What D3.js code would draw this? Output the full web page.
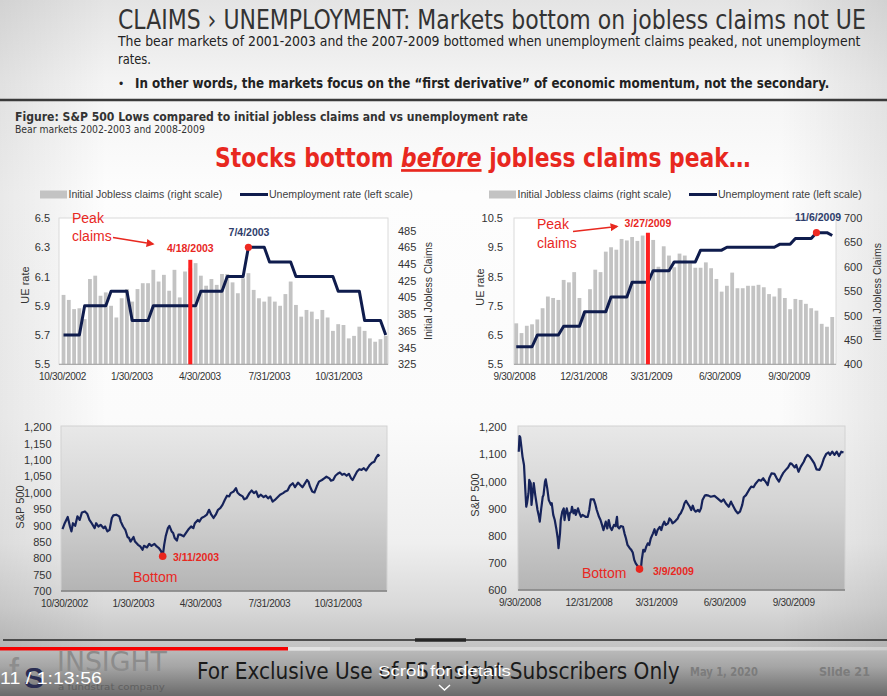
<!DOCTYPE html>
<html>
<head>
<meta charset="utf-8">
<script src="https://cdn.jsdelivr.net/npm/d3@7"></script>
<style>
html,body{margin:0;padding:0;background:#fff;overflow:hidden}
svg{display:block}
</style>
</head>
<body>
<svg id="chart" width="887" height="696"></svg>
<script>
// ================= DATA =================
// Weekly initial jobless claims (thousands), weeks ending Fridays
const claims1Start = "2002-11-01";
const claims1 = [408,402,391,392,379,427,431,407,411,395,
                 381,404,415,400,415,422,422,438,424,432,
                 413,438,405,436,440,446,431,419,427,420,
                 433,433,423,410,428,434,414,404,400,406,
                 400,395,409,424,396,382,390,388,379,390,
                 381,365,373,372,356,359,370,365,356,352,
                 355,359];
// Unemployment rate (%) on the same weekly dates
const ue1 = [5.7,5.7,5.7,5.7,5.9,5.9,5.9,5.9,5.9,6.0,
             6.0,6.0,6.0,5.8,5.8,5.8,5.8,5.9,5.9,5.9,
             5.9,5.9,5.9,5.9,5.9,5.9,6.0,6.0,6.0,6.0,
             6.0,6.1,6.1,6.1,6.1,6.3,6.3,6.3,6.3,6.2,
             6.2,6.2,6.2,6.2,6.1,6.1,6.1,6.1,6.1,6.1,
             6.1,6.1,6.0,6.0,6.0,6.0,6.0,5.8,5.8,5.8,
             5.8,5.7];
const claims2Start = "2008-10-03";
const claims2 = [484,464,479,482,492,515,539,536,532,573,
                 568,589,536,508,554,594,589,631,640,635,
                 657,654,661,653,664,666,655,600,642,623,
                 599,627,623,607,598,598,609,597,575,549,
                 561,588,556,556,561,561,563,558,544,539,
                 556,536,513,534,532,524,515,510,483,477,
                 497];
const ue2 = [6.1,6.1,6.1,6.1,6.5,6.5,6.5,6.5,6.5,6.8,
             6.8,6.8,6.8,7.3,7.3,7.3,7.3,7.3,7.8,7.8,
             7.8,7.8,8.3,8.3,8.3,8.3,8.7,8.7,8.7,8.7,
             9.0,9.0,9.0,9.0,9.0,9.4,9.4,9.4,9.4,9.4,
             9.5,9.5,9.5,9.5,9.5,9.5,9.5,9.5,9.5,9.5,
             9.6,9.6,9.6,9.8,9.8,9.8,9.8,10.0,10.0,10.0,
             9.9];

// S&P 500: day offset from start date, and level
const spx1Start = "2002-10-26";
const spx1Day = [2,5,9,12,14,16,19,22,25,28,32,35,38,41,45,47,50,53,57,59,
  62,65,68,70,74,78,80,83,86,89,91,93,97,99,103,106,109,111,115,118,
  121,125,128,131,134,136,138,140,143,145,148,150,152,155,157,160,164,167,170,174,
  177,179,183,185,188,192,195,198,201,204,207,210,213,216,219,222,225,227,231,234,
  236,239,243,245,248,252,255,258,261,264,267,271,274,277,280,283,286,290,293,297,
  300,303,306,310,313,317,320,323,325,329,331,333,336,339,342,345,349,352,355,359,
  361,364,367,370,373,376,379,382,385,388,390,393,396,399,402,405,408,411,413,416,
  419,421,424,426];
const spx1Val = [889,907,926,897,882,907,899,928,917,940,943,936,917,907,892,907,897,902,892,897,
  882,887,923,931,933,928,912,897,887,865,862,851,865,851,841,836,826,838,833,844,
  838,844,836,831,821,806,841,867,892,899,882,877,862,854,872,872,867,877,887,897,
  892,907,917,912,923,928,933,948,933,923,933,948,953,963,978,991,989,999,1004,1014,
  1001,994,989,980,983,999,1007,999,1004,987,994,987,991,983,989,973,978,987,994,999,
  1004,1007,1021,1029,1017,1031,1024,1017,1024,1039,1034,1019,1004,1001,1019,1034,1039,1044,1049,1044,
  1037,1039,1052,1058,1062,1055,1058,1052,1058,1044,1039,1052,1065,1072,1070,1075,1068,1078,1085,1092,
  1095,1105,1116,1112];
const spx2Start = "2008-09-29";
const spx2Day = [0,1,2,4,5,7,9,10,11,13,14,16,17,19,20,22,23,25,27,28,
  30,32,33,35,36,38,40,41,43,44,46,48,50,52,53,55,56,58,60,61,
  62,64,65,67,68,70,71,73,75,76,79,81,83,85,89,92,94,96,100,102,
  104,107,109,111,113,116,118,120,122,124,127,129,131,132,134,136,139,141,143,145,
  148,150,152,154,156,159,161,163,164,166,168,170,172,174,176,179,181,183,185,188,
  190,192,194,196,199,201,203,205,208,210,212,214,216,219,221,223,225,228,230,232,
  234,236,239,241,243,245,248,250,253,256,261,265,270,273,276,280,283,285,289,292,
  295,298,300,303,307,310,313,316,320,323,326,329,332,334,337,341,344,347,350,353,
  356,359,362,364,368,370,373,376,380,382,385,388,391,394,397,401,404,407,410,413,
  415,418,421,424,427,430,433];
const spx2Val = [1110,1168,1163,1116,1092,1061,957,907,920,957,1006,994,914,969,994,950,932,895,870,852,
  901,944,950,1000,1008,975,932,926,914,920,877,858,827,790,754,809,858,889,901,858,
  877,901,889,858,883,889,907,883,895,877,901,883,870,877,870,870,895,934,934,917,
  895,870,858,840,821,852,827,858,831,821,840,836,870,833,827,836,833,809,790,766,
  754,748,738,711,698,686,677,682,711,748,742,760,772,766,790,809,824,803,821,833,
  821,840,852,840,846,864,858,846,852,858,864,877,883,901,920,929,920,907,895,911,
  895,889,895,889,901,932,948,950,948,944,947,938,926,934,920,907,926,914,893,883,
  889,914,942,950,969,981,979,993,1006,1003,1012,1000,987,1012,1030,1028,1012,1000,1018,1033,
  1043,1052,1067,1065,1052,1061,1036,1055,1073,1086,1098,1092,1080,1067,1045,1043,1061,1086,1102,1107,
  1098,1110,1098,1110,1094,1110,1107];

// Axis tick labels
const xLabels1 = ["10/30/2002","1/30/2003","4/30/2003","7/31/2003","10/31/2003"];
const xLabels2 = ["9/30/2008","12/31/2008","3/31/2009","6/30/2009","9/30/2009"];
const ueTicks1 = [5.5,5.7,5.9,6.1,6.3,6.5];
const clTicks1 = [325,345,365,385,405,425,445,465,485];
const ueTicks2 = [5.5,6.5,7.5,8.5,9.5,10.5];
const clTicks2 = [400,450,500,550,600,650,700];
const spxTicks1 = [700,750,800,850,900,950,1000,1050,1100,1150,1200];
const spxTicks2 = [600,700,800,900,1000,1100,1200];

// Key dates
const peakClaims1 = "2003-04-18", uePeak1 = "2003-07-04", spxLow1 = "2003-03-11";
const peakClaims2 = "2009-03-27", uePeak2 = "2009-11-06", spxLow2 = "2009-03-09";

// ================= DRAWING =================
const SANS = "'Liberation Sans', Arial, Helvetica, sans-serif";
const NARROW = "'Liberation Sans Narrow','Arial Narrow','DejaVu Sans Condensed','Liberation Sans',Arial,sans-serif";
const RED = "#e8281f", NAVY = "#0f1c4d";
const parse = d3.timeParse("%Y-%m-%d");
const parseMDY = d3.timeParse("%m/%d/%Y");

const svg = d3.select("#chart");
const defs = svg.append("defs");
function grad(id, stops, vertical = true) {
  const lg = defs.append("linearGradient").attr("id", id)
    .attr("x1", 0).attr("y1", 0).attr("x2", vertical ? 0 : 1).attr("y2", vertical ? 1 : 0);
  stops.forEach(([o, c, op]) => lg.append("stop").attr("offset", o).attr("stop-color", c).attr("stop-opacity", op == null ? 1 : op));
}
grad("bg", [[0,"#e4e4e4"],[0.12,"#f4f4f4"],[0.28,"#fdfdfd"],[0.6,"#fbfbfb"],[0.78,"#efefef"],[0.87,"#d9d9d9"],[0.92,"#c6c6c6"],[1,"#b4b4b4"]]);
grad("vig", [[0,"#000",0.08],[0.12,"#000",0],[0.88,"#000",0],[1,"#000",0.08]], false);
grad("plotbg", [[0,"#e8e8e8"],[0.5,"#d3d3d3"],[1,"#b4b4b4"]]);
grad("foot", [[0,"#b9b9b9"],[0.35,"#a5a5a5"],[1,"#6a6a6a"]]);
defs.append("marker").attr("id", "arr").attr("viewBox", "0 0 10 10").attr("refX", 8).attr("refY", 5)
  .attr("markerWidth", 5).attr("markerHeight", 5).attr("orient", "auto")
  .append("path").attr("d", "M0,0L10,5L0,10z").attr("fill", RED);

svg.append("rect").attr("width", 887).attr("height", 696).attr("fill", "url(#bg)");
svg.append("rect").attr("width", 887).attr("height", 696).attr("fill", "url(#vig)");

// text helper; "w" fits the text to a target width by horizontal scaling
function T(x, y, s, o = {}) {
  const t = svg.append("text").text(s)
    .attr("font-family", o.ff || SANS).attr("font-size", o.fs || 12).attr("fill", o.fill || "#222");
  if (o.fw) t.attr("font-weight", o.fw);
  if (o.anchor) t.attr("text-anchor", o.anchor);
  if (o.build) o.build(t);
  if (o.rot) {
    t.attr("x", x).attr("y", y).attr("transform", `rotate(-90 ${x} ${y})`);
  } else if (o.w) {
    const nat = t.node().getComputedTextLength() || o.w;
    const sx = o.w / nat;
    t.attr("x", 0).attr("y", 0).attr("transform", `translate(${x},${y}) scale(${sx},1)`);
  } else {
    t.attr("x", x).attr("y", y);
  }
  return t;
}

// ---- header ----
T(118, 29, "CLAIMS \u203A UNEMPLOYMENT: Markets bottom on jobless claims not UE", {ff: NARROW, fs: 27, fill: "#333", w: 748});
T(118, 46, "The bear markets of 2001-2003 and the 2007-2009 bottomed when unemployment claims peaked, not unemployment", {ff: NARROW, fs: 14.5, fill: "#222", w: 743});
T(118, 64, "rates.", {ff: NARROW, fs: 14.5, fill: "#222", w: 33});
T(119, 88, "\u2022", {fs: 12, fill: "#222"});
T(135, 88, "In other words, the markets focus on the \u201Cfirst derivative\u201D of economic momentum, not the secondary.", {ff: NARROW, fs: 14.5, fw: "bold", fill: "#222", w: 695});
svg.append("line").attr("x1", 0).attr("x2", 887).attr("y1", 100).attr("y2", 100).attr("stroke", "#3a3a3a").attr("stroke-width", 2.5);
T(15, 121, "Figure: S&P 500 Lows compared to initial jobless claims and vs unemployment rate", {ff: NARROW, fs: 12.5, fw: "bold", fill: "#333", w: 513});
T(15, 133, "Bear markets 2002-2003 and 2008-2009", {ff: NARROW, fs: 10, fill: "#333", w: 190});
T(215, 167, "", {ff: NARROW, fs: 27, fw: "bold", fill: RED, w: 536, build: t => {
  t.append("tspan").text("Stocks bottom ");
  t.append("tspan").text("before").attr("font-style", "italic").attr("text-decoration", "underline").style("text-decoration", "underline");
  t.append("tspan").text(" jobless claims peak\u2026");
}});

// ---- top charts ----
function topChart(c) {
  const x = d3.scaleTime().domain([parse(c.xFrom), parse(c.xTo)]).range([c.x0, c.x1]);
  const yL = d3.scaleLinear().domain(c.ueDom).range([c.yB, c.yT]);
  const yR = d3.scaleLinear().domain(c.clDom).range([c.yB, c.yT]);
  const start = parse(c.start);
  const dates = c.claims.map((v, i) => d3.timeDay.offset(start, 7 * i));
  const g = svg.append("g");
  g.append("rect").attr("x", c.x0).attr("y", c.yT).attr("width", c.x1 - c.x0).attr("height", c.yB - c.yT)
    .attr("fill", "#fff").attr("stroke", "#dadada");
  const bw = 3.8;
  g.append("g").selectAll("rect").data(c.claims).join("rect")
    .attr("x", (d, i) => x(dates[i]) - bw / 2).attr("width", bw)
    .attr("y", d => yR(d)).attr("height", d => yR(c.clDom[0]) - yR(d)).attr("fill", "#c3c3c3");
  g.append("line").attr("x1", c.x0).attr("x2", c.x1).attr("y1", c.yB).attr("y2", c.yB).attr("stroke", "#a0a0a0");
  g.append("path").datum(c.ue)
    .attr("d", d3.line().x((d, i) => x(dates[i])).y(d => yL(d)))
    .attr("fill", "none").attr("stroke", NAVY).attr("stroke-width", 3).attr("stroke-linejoin", "round");
  const px = x(parse(c.peak));
  g.append("line").attr("x1", px).attr("x2", px).attr("y1", yR(c.peakTop)).attr("y2", c.yB)
    .attr("stroke", "#ff1f1f").attr("stroke-width", 4);
  const ui = dates.findIndex(d => +d === +parse(c.uePeak));
  g.append("circle").attr("cx", x(dates[ui])).attr("cy", yL(c.ue[ui])).attr("r", 3.6).attr("fill", "#ee2a22");
  // axes
  const aL = g.append("g").attr("transform", `translate(${c.x0},0)`)
    .call(d3.axisLeft(yL).tickValues(c.ueTicks).tickSize(0).tickPadding(c.padL).tickFormat(d3.format(".1f")));
  const aR = g.append("g").attr("transform", `translate(${c.x1},0)`)
    .call(d3.axisRight(yR).tickValues(c.clTicks).tickSize(0).tickPadding(c.padR));
  const aB = g.append("g").attr("transform", `translate(0,${c.yB})`)
    .call(d3.axisBottom(x).tickValues(c.xLabels.map(parseMDY)).tickSize(0).tickPadding(9).tickFormat((d, i) => c.xLabels[i]));
  [aL, aR].forEach(a => { a.attr("font-family", SANS).attr("font-size", 11); a.select(".domain").remove(); a.selectAll("text").attr("fill", "#333"); });
  aB.attr("font-family", SANS).attr("font-size", 10); aB.select(".domain").remove(); aB.selectAll("text").attr("fill", "#333").attr("letter-spacing", "-0.3");
  return {x, yL, yR, px};
}

const t1 = topChart({xFrom: "2002-10-26", xTo: "2004-01-05", x0: 59, x1: 388, yT: 218, yB: 364.3,
  ueDom: [5.5, 6.5], clDom: [325, 500], start: claims1Start, claims: claims1, ue: ue1,
  ueTicks: ueTicks1, clTicks: clTicks1, xLabels: xLabels1, peak: peakClaims1, peakTop: 450, uePeak: uePeak1, padL: 9, padR: 10});
const t2 = topChart({xFrom: "2008-09-30", xTo: "2009-12-02", x0: 514, x1: 836, yT: 218, yB: 364.3,
  ueDom: [5.5, 10.5], clDom: [400, 700], start: claims2Start, claims: claims2, ue: ue2,
  ueTicks: ueTicks2, clTicks: clTicks2, xLabels: xLabels2, peak: peakClaims2, peakTop: 670, uePeak: uePeak2, padL: 11, padR: 8});

// legends
function legend(x0) {
  svg.append("rect").attr("x", x0).attr("y", 190.5).attr("width", 27).attr("height", 8).attr("fill", "#c3c3c3");
  T(x0 + 28.5, 198, "Initial Jobless claims (right scale)", {fs: 10.5, fill: "#404040", w: 154});
  svg.append("line").attr("x1", x0 + 200).attr("x2", x0 + 228).attr("y1", 194.5).attr("y2", 194.5).attr("stroke", NAVY).attr("stroke-width", 3);
  T(x0 + 229, 198, "Unemployment rate (left scale)", {fs: 10.5, fill: "#404040", w: 144});
}
legend(40);
legend(489);

// axis titles
T(29, 285, "UE rate", {fs: 11, fill: "#333", anchor: "middle", rot: true});
T(432, 291, "Initial Jobless Claims", {fs: 10.5, fill: "#333", anchor: "middle", rot: true});
T(484, 287, "UE rate", {fs: 11, fill: "#333", anchor: "middle", rot: true});
T(881, 292, "Initial Jobless Claims", {fs: 10.5, fill: "#333", anchor: "middle", rot: true});

// annotations chart 1
T(72, 222.5, "Peak", {fs: 14, fill: RED});
T(72, 240.5, "claims", {fs: 14, fill: RED});
svg.append("line").attr("x1", 113).attr("y1", 237.5).attr("x2", 153).attr("y2", 244)
  .attr("stroke", RED).attr("stroke-width", 1.6).attr("marker-end", "url(#arr)");
T(t1.px, 252, "4/18/2003", {fs: 10.5, fw: "bold", fill: RED, anchor: "middle"});
T(249, 236, "7/4/2003", {fs: 10.5, fw: "bold", fill: "#2e3d6b", anchor: "middle"});
// annotations chart 2
T(537, 228.5, "Peak", {fs: 14, fill: RED});
T(537, 247.5, "claims", {fs: 14, fill: RED});
svg.append("line").attr("x1", 573).attr("y1", 231.5).attr("x2", 617).attr("y2", 226.5)
  .attr("stroke", RED).attr("stroke-width", 1.6).attr("marker-end", "url(#arr)");
T(t2.px, 227, "3/27/2009", {fs: 10.5, fw: "bold", fill: RED, anchor: "middle"});
T(818, 221, "11/6/2009", {fs: 10.5, fw: "bold", fill: "#2e3d6b", anchor: "middle"});

// ---- bottom charts ----
function spxChart(c) {
  const x = d3.scaleTime().domain([parse(c.xFrom), parse(c.xTo)]).range([c.x0, c.x1]);
  const y = d3.scaleLinear().domain(c.dom).range([c.yZero, c.yTop]);
  const start = parse(c.start);
  const n = Math.min(c.day.length, c.val.length);
  const pts = d3.range(n).map(i => ({d: d3.timeDay.offset(start, c.day[i]), v: c.val[i], k: c.day[i]}));
  const g = svg.append("g");
  g.append("rect").attr("x", c.x0).attr("y", c.yT).attr("width", c.x1 - c.x0).attr("height", c.yB - c.yT)
    .attr("fill", "url(#plotbg)").attr("stroke", "#d2d2d2");
  g.append("line").attr("x1", c.x0).attr("x2", c.x1).attr("y1", c.yB).attr("y2", c.yB).attr("stroke", "#7e7e7e").attr("stroke-width", 1.5);
  g.append("path").datum(pts).attr("d", d3.line().x(p => x(p.d)).y(p => y(p.v)))
    .attr("fill", "none").attr("stroke", "#16235a").attr("stroke-width", 2.2).attr("stroke-linejoin", "round");
  const lowK = d3.timeDay.count(start, parse(c.low));
  const lp = pts.find(p => p.k === lowK);
  g.append("circle").attr("cx", x(lp.d)).attr("cy", y(lp.v)).attr("r", 3.8).attr("fill", "#e8261e");
  const aL = g.append("g").attr("transform", `translate(${c.x0},0)`)
    .call(d3.axisLeft(y).tickValues(c.ticks).tickSize(0).tickPadding(c.padL).tickFormat(d3.format(",")));
  const aB = g.append("g").attr("transform", `translate(0,${c.yB})`)
    .call(d3.axisBottom(x).tickValues(c.xLabels.map(parseMDY)).tickSize(0).tickPadding(9).tickFormat((d, i) => c.xLabels[i]));
  aL.attr("font-family", SANS).attr("font-size", 11); aL.select(".domain").remove(); aL.selectAll("text").attr("fill", "#333");
  aB.attr("font-family", SANS).attr("font-size", 10); aB.select(".domain").remove(); aB.selectAll("text").attr("fill", "#333").attr("letter-spacing", "-0.3");
  return {x, y, lp};
}
const b1 = spxChart({xFrom: "2002-10-26", xTo: "2004-01-05", x0: 61, x1: 387, yT: 426, yB: 591, yZero: 591, yTop: 427.3,
  dom: [700, 1200], ticks: spxTicks1, start: spx1Start, day: spx1Day, val: spx1Val, xLabels: xLabels1, low: spxLow1, padL: 9.5});
const b2 = spxChart({xFrom: "2008-09-28", xTo: "2009-12-08", x0: 518, x1: 845, yT: 426, yB: 590, yZero: 590, yTop: 427.3,
  dom: [600, 1200], ticks: spxTicks2, start: spx2Start, day: spx2Day, val: spx2Val, xLabels: xLabels2, low: spxLow2, padL: 11.5});

T(24, 507, "S&P 500", {fs: 11, fill: "#333", anchor: "middle", rot: true});
T(479, 495, "S&P 500", {fs: 11, fill: "#333", anchor: "middle", rot: true});
T(173, 561, "3/11/2003", {fs: 10.5, fw: "bold", fill: RED});
T(133, 582, "Bottom", {fs: 14, fill: RED});
T(653, 574.5, "3/9/2009", {fs: 10.5, fw: "bold", fill: RED});
T(582, 577.5, "Bottom", {fs: 14, fill: RED});

// ---- footer ----
svg.append("line").attr("x1", 3).attr("x2", 887).attr("y1", 640).attr("y2", 640).attr("stroke", "#262626").attr("stroke-width", 1.5);
svg.append("line").attr("x1", 415).attr("x2", 466).attr("y1", 640).attr("y2", 640).attr("stroke", "#262626").attr("stroke-width", 3.5);
svg.append("rect").attr("x", 0).attr("y", 651).attr("width", 887).attr("height", 45).attr("fill", "url(#foot)");
svg.append("rect").attr("x", 0).attr("y", 647).attr("width", 887).attr("height", 3.5).attr("fill", "#fff").attr("opacity", 0.35);
svg.append("rect").attr("x", 288).attr("y", 647).attr("width", 42).attr("height", 3.5).attr("fill", "#e2e2e2");
svg.append("rect").attr("x", 0).attr("y", 647).attr("width", 288).attr("height", 3.5).attr("fill", "#f50000");
T(9, 684, "f", {ff: SANS, fs: 36, fill: "#8d8d8d"});
T(24, 688, "S", {ff: SANS, fs: 30, fw: "bold", fill: "#2a2d52"});
T(57, 671, "INSIGHT", {ff: NARROW, fs: 27, fill: "#8c8c8c", w: 110});
T(58, 690, "a fundstrat company", {ff: NARROW, fs: 9.5, fill: "#5f5f5f", w: 107});
T(0, 684, "11 / 1:13:56", {fs: 16, fill: "#ffffff", w: 102});
T(197, 679, "For Exclusive Use of FS Insight Subscribers Only", {ff: NARROW, fs: 23, fill: "#1a1a1a", w: 483});
T(378, 676, "Scroll for details", {fs: 15, fill: "#ffffff", w: 133});
svg.append("path").attr("d", "M439,685L444.5,690L450,685").attr("fill", "none").attr("stroke", "#fff").attr("stroke-width", 1.5);
T(690, 676, "May 1, 2020", {ff: NARROW, fs: 12, fw: "bold", fill: "#7c7c7c", w: 68});
T(819, 676, "Slide 21", {ff: NARROW, fs: 12, fw: "bold", fill: "#7c7c7c", w: 51});
</script>
</body>
</html>
